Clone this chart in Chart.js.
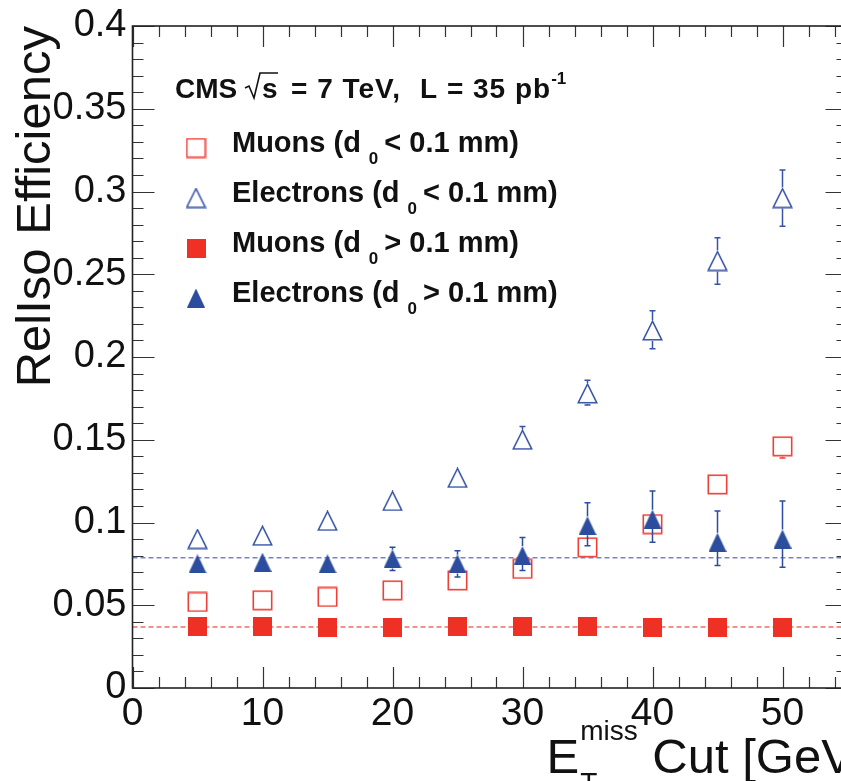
<!DOCTYPE html>
<html><head><meta charset="utf-8">
<script src="https://cdn.jsdelivr.net/npm/chart.js@4.4.1/dist/chart.umd.min.js"></script>
<style>
html,body{margin:0;padding:0;background:#fff;overflow:hidden;}
body{width:841px;height:781px;position:relative;}
#wrap{position:absolute;left:0;top:0;width:872px;height:781px;}
canvas{display:block;}
</style></head><body>
<div id="wrap"><canvas id="c" width="872" height="781"></canvas></div>
<script>
// ---------------- data ----------------
const cuts = [5, 10, 15, 20, 25, 30, 35, 40, 45, 50];
const muonsPrompt      = [0.052, 0.053, 0.055, 0.059, 0.065, 0.072, 0.085, 0.099, 0.123, 0.146];
const muonsPromptLo    = [0.049, 0.050, 0.052, 0.056, 0.062, 0.069, 0.082, 0.096, 0.118, 0.139];
const muonsPromptHi    = [0.055, 0.056, 0.058, 0.062, 0.068, 0.075, 0.088, 0.102, 0.128, 0.151];
const elecPrompt       = [0.090, 0.092, 0.101, 0.113, 0.127, 0.150, 0.178, 0.216, 0.258, 0.296];
const elecPromptLo     = [0.087, 0.089, 0.098, 0.110, 0.124, 0.144, 0.171, 0.205, 0.244, 0.279];
const elecPromptHi     = [0.093, 0.095, 0.104, 0.116, 0.130, 0.158, 0.186, 0.228, 0.272, 0.313];
const muonsDisplaced   = [0.037, 0.037, 0.0365, 0.0365, 0.037, 0.037, 0.037, 0.0365, 0.0365, 0.0365];
const muonsDisplacedLo = [0.036, 0.036, 0.0355, 0.0355, 0.036, 0.036, 0.036, 0.0355, 0.0355, 0.0355];
const muonsDisplacedHi = [0.038, 0.038, 0.0375, 0.0375, 0.038, 0.038, 0.038, 0.0375, 0.0375, 0.0375];
const elecDisplaced    = [0.075, 0.076, 0.075, 0.078, 0.075, 0.080, 0.098, 0.102, 0.088, 0.090];
const elecDisplacedLo  = [0.072, 0.073, 0.072, 0.071, 0.067, 0.071, 0.086, 0.088, 0.074, 0.073];
const elecDisplacedHi  = [0.078, 0.079, 0.078, 0.085, 0.083, 0.091, 0.112, 0.119, 0.107, 0.113];
const muonsDisplacedMean = 0.0369;
const elecDisplacedMean  = 0.0787;
const xRange = [0, 55];
const yRange = [0, 0.4];
const xTickValues = [0, 10, 20, 30, 40, 50];
const xTickLabels = ['0', '10', '20', '30', '40', '50'];
const yTickValues = [0, 0.05, 0.1, 0.15, 0.2, 0.25, 0.3, 0.35, 0.4];
const yTickLabels = ['0', '0.05', '0.1', '0.15', '0.2', '0.25', '0.3', '0.35', '0.4'];
const xMinorStep = 2;
const yMinorStep = 0.01;
const seriesNames = ['Muons (d_0 < 0.1 mm)', 'Electrons (d_0 < 0.1 mm)', 'Muons (d_0 > 0.1 mm)', 'Electrons (d_0 > 0.1 mm)'];
const yTitle = 'RelIso Efficiency';

// ---------------- styles ----------------
const RED = '#ee3124', RED_OPEN = '#ee4038', BLUE = '#2c4d9e', BLUE_OPEN = '#3653a6';
const FONT = '"Liberation Sans", Arial, Helvetica, sans-serif';
function mk(w, h, draw) { const c = document.createElement('canvas'); c.width = w; c.height = h; const g = c.getContext('2d'); draw(g, w, h); return c; }
const mOpenSq = mk(21, 21, (g, w, h) => { g.strokeStyle = RED_OPEN; g.lineWidth = 1.6; g.strokeRect(1.3, 1.3, w - 2.6, h - 2.6); });
const mFillSq = mk(19, 19, (g, w, h) => { g.fillStyle = RED; g.fillRect(0, 0, w, h); });
const mOpenTri = mk(21, 21, (g, w, h) => { g.strokeStyle = BLUE_OPEN; g.lineWidth = 1.5; g.lineJoin = 'miter'; g.beginPath(); g.moveTo(w / 2, 1.2); g.lineTo(w - 1.2, h - 1.2); g.lineTo(1.2, h - 1.2); g.closePath(); g.stroke(); });
const mFillTri = mk(18, 19, (g, w, h) => { g.fillStyle = BLUE; g.beginPath(); g.moveTo(w / 2, 0); g.lineTo(w, h); g.lineTo(0, h); g.closePath(); g.fill(); });

const pts = (ys) => cuts.map((x, i) => ({ x: x, y: ys[i] }));
const mkSet = (label, ys, lo, hi, marker, color, half) => ({
  label, data: pts(ys), errLo: lo, errHi: hi, markerHalf: half, errColor: color,
  showLine: false, pointStyle: marker, pointRadius: 10, pointHoverRadius: 10,
  borderColor: color, backgroundColor: color
});

const datasets = [
  mkSet(seriesNames[3], elecDisplaced, elecDisplacedLo, elecDisplacedHi, mFillTri, BLUE, 9.5),
  mkSet(seriesNames[1], elecPrompt, elecPromptLo, elecPromptHi, mOpenTri, BLUE_OPEN, 10.5),
  mkSet(seriesNames[2], muonsDisplaced, muonsDisplacedLo, muonsDisplacedHi, mFillSq, RED, 9.5),
  mkSet(seriesNames[0], muonsPrompt, muonsPromptLo, muonsPromptHi, mOpenSq, RED_OPEN, 10.5),
  { label: 'e mean', type: 'line', data: [{ x: xRange[0], y: elecDisplacedMean }, { x: xRange[1], y: elecDisplacedMean }],
    borderColor: '#7585cc', borderWidth: 1.6, borderDash: [5, 3], pointRadius: 0, fill: false },
  { label: 'mu mean', type: 'line', data: [{ x: xRange[0], y: muonsDisplacedMean }, { x: xRange[1], y: muonsDisplacedMean }],
    borderColor: '#f26e66', borderWidth: 1.6, borderDash: [5, 3], pointRadius: 0, fill: false }
];
const legendMarkers = [mOpenSq, mOpenTri, mFillSq, mFillTri];

// ---------------- plugins ----------------
const errorBars = {
  id: 'errorBars',
  afterDatasetDraw(chart, args) {
    const ds = chart.data.datasets[args.index];
    if (!ds.errLo) return;
    const ctx = chart.ctx, ys = chart.scales.y;
    ctx.save();
    ctx.strokeStyle = ds.errColor; ctx.lineWidth = 1.5;
    args.meta.data.forEach((p, i) => {
      const yc = p.y, yh = ys.getPixelForValue(ds.errHi[i]), yl = ys.getPixelForValue(ds.errLo[i]);
      const h = ds.markerHalf;
      ctx.beginPath();
      if (yh < yc - h) { ctx.moveTo(p.x, yc - h); ctx.lineTo(p.x, yh); ctx.moveTo(p.x - 3, yh); ctx.lineTo(p.x + 3, yh); }
      if (yl > yc + h) { ctx.moveTo(p.x, yc + h); ctx.lineTo(p.x, yl); ctx.moveTo(p.x - 3, yl); ctx.lineTo(p.x + 3, yl); }
      ctx.stroke();
    });
    ctx.restore();
  }
};

const frame = {
  id: 'frame',
  afterDraw(chart) {
    const ctx = chart.ctx, a = chart.chartArea, xs = chart.scales.x, ys = chart.scales.y;
    ctx.save();
    ctx.strokeStyle = '#333'; ctx.lineWidth = 1.2;
    ctx.beginPath();
    for (let v = xRange[0]; v <= xRange[1] + 1e-9; v += xMinorStep) {
      const px = Math.round(xs.getPixelForValue(v)) + 0.5;
      const major = xTickValues.some(t => Math.abs(t - v) < 1e-9);
      const L = major ? 21 : 11;
      ctx.moveTo(px, a.bottom); ctx.lineTo(px, a.bottom - L);
      ctx.moveTo(px, a.top); ctx.lineTo(px, a.top + L);
    }
    for (let k = 0; k * yMinorStep <= yRange[1] + 1e-9; k++) {
      const v = k * yMinorStep;
      const py = Math.round(ys.getPixelForValue(v)) + 0.5;
      const major = yTickValues.some(t => Math.abs(t - v) < 1e-9);
      const L = major ? 22 : 11;
      ctx.moveTo(a.left, py); ctx.lineTo(a.left + L, py);
      ctx.moveTo(a.right, py); ctx.lineTo(a.right - L, py);
    }
    ctx.stroke();
    ctx.strokeStyle = '#222'; ctx.lineWidth = 1.6;
    ctx.strokeRect(a.left, a.top, a.right - a.left, a.bottom - a.top);

    // y title
    ctx.fillStyle = '#111';
    ctx.font = '49px ' + FONT;
    ctx.save();
    ctx.translate(50, a.top);
    ctx.rotate(-Math.PI / 2);
    ctx.textAlign = 'right'; ctx.textBaseline = 'alphabetic';
    ctx.fillText(yTitle, 0, 0);
    ctx.restore();

    // x title  E_T^miss Cut [GeV]
    ctx.textAlign = 'left'; ctx.textBaseline = 'alphabetic';
    const big = '49px ' + FONT, small = '28px ' + FONT;
    ctx.font = big; const wE = ctx.measureText('E').width; const wR = ctx.measureText(' Cut [GeV]').width;
    ctx.font = small; const wS = Math.max(ctx.measureText('miss').width, ctx.measureText('T').width);
    const x0 = a.right - (wE + wS + wR + 2) + 20;
    const by = 773;
    ctx.font = big; ctx.fillText('E', x0, by); ctx.fillText(' Cut [GeV]', x0 + wE + wS + 2, by);
    ctx.font = small; ctx.fillText('miss', x0 + wE + 1, by - 33); ctx.fillText('T', x0 + wE + 1, by + 19);

    // legend header
    ctx.font = 'bold 28px ' + FONT;
    ctx.fillText('CMS', 175, 98);
    ctx.lineWidth = 1.6; ctx.strokeStyle = '#111';
    ctx.beginPath();
    ctx.moveTo(245, 88); ctx.lineTo(249, 86); ctx.lineTo(254, 98); ctx.lineTo(260, 73); ctx.lineTo(278, 73);
    ctx.stroke();
    ctx.fillText('s', 262, 98);
    ctx.letterSpacing = '1px';
    ctx.fillText('= 7 TeV,', 291, 98);
    ctx.fillText('L = 35 pb', 420, 98);
    const wL = ctx.measureText('L = 35 pb').width;
    ctx.letterSpacing = '0px';
    ctx.font = 'bold 17px ' + FONT;
    ctx.fillText('-1', 420 + wL, 84);

    // legend rows
    const rowBase = [152, 202, 252, 302];
    seriesNames.forEach((name, i) => {
      const m = legendMarkers[i];
      ctx.drawImage(m, 196 - m.width / 2, rowBase[i] - 4 - m.height / 2);
      const parts = name.split('_0');
      ctx.font = 'bold 29px ' + FONT;
      let x = 232;
      ctx.fillText(parts[0], x, rowBase[i]);
      x += ctx.measureText(parts[0]).width + 8;
      ctx.font = 'bold 17px ' + FONT;
      ctx.fillText('0', x, rowBase[i] + 12);
      x += ctx.measureText('0').width - 2;
      ctx.font = 'bold 29px ' + FONT;
      ctx.fillText(parts[1], x, rowBase[i]);
    });
    ctx.restore();
  }
};

new Chart(document.getElementById('c'), {
  type: 'scatter',
  data: { datasets },
  options: {
    responsive: false, animation: false, devicePixelRatio: 1,
    layout: { autoPadding: false, padding: { top: 26, right: 24.5, left: 0, bottom: 0 } },
    plugins: { legend: { display: false }, tooltip: { enabled: false } },
    scales: {
      x: {
        type: 'linear', min: xRange[0], max: xRange[1],
        grid: { display: false, drawTicks: false }, border: { display: false },
        afterBuildTicks: (s) => { s.ticks = xTickValues.map(v => ({ value: v })); },
        afterFit: (s) => { s.height = 93; },
        ticks: { padding: 3, color: '#111', font: { family: FONT, size: 39 }, maxRotation: 0, autoSkip: false,
          callback: (v, i) => xTickLabels[i] }
      },
      y: {
        type: 'linear', min: yRange[0], max: yRange[1],
        grid: { display: false, drawTicks: false }, border: { display: false },
        afterBuildTicks: (s) => { s.ticks = yTickValues.map(v => ({ value: v })); },
        afterFit: (s) => { s.width = 132.5; },
        ticks: { padding: 6, color: '#111', font: { family: FONT, size: 38, lineHeight: 1 }, autoSkip: false,
          callback: (v, i) => yTickLabels[i] }
      }
    }
  },
  plugins: [errorBars, frame]
});
</script>
</body></html>
